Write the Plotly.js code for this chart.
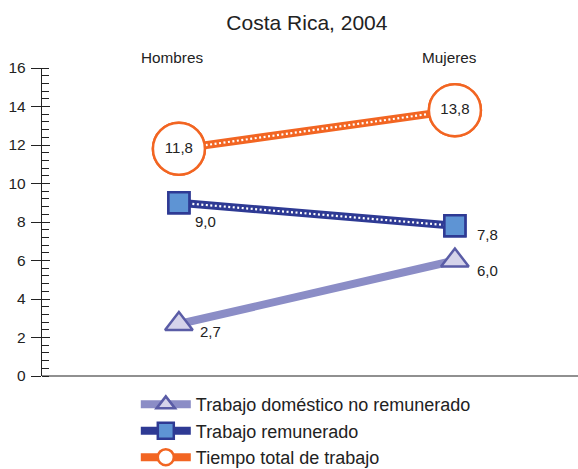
<!DOCTYPE html>
<html><head><meta charset="utf-8">
<script src="https://cdn.plot.ly/plotly-3.0.1.min.js"></script>
<style>html,body{margin:0;padding:0;background:#fff}#c{width:578px;height:469px}</style>
</head><body><div id="c"></div>
<script>
const categories = ["Hombres", "Mujeres"];
const seriesNames = ["Trabajo doméstico no remunerado", "Trabajo remunerado", "Tiempo total de trabajo"];
const domestico = [2.7, 6.0];
const remunerado = [9.0, 7.8];
const total = [11.8, 13.8];
const yTicks = [0, 2, 4, 6, 8, 10, 12, 14, 16];

const fmt = v => v.toFixed(1).replace('.', ',');
const font = "Liberation Sans, Arial, sans-serif";
const x = [0, 1];
const dots = {color: '#ffffff', width: 2.2, dash: '2px,2.5px'};

const traces = [
  {x, y: domestico, name: seriesNames[0], mode: 'lines+markers', type: 'scatter',
   line: {color: '#8b8dc6', width: 8},
   marker: {symbol: 'triangle-up', size: 24, color: '#d5d3ea', line: {color: '#5a5ca6', width: 2.5}}},
  {x, y: remunerado, name: seriesNames[1], mode: 'lines+markers', type: 'scatter',
   line: {color: '#2e3a94', width: 8},
   marker: {symbol: 'square', size: 21, color: '#5e94d4', line: {color: '#2e3a94', width: 2.5}}},
  {x, y: remunerado, mode: 'lines', type: 'scatter', showlegend: false, line: dots},
  {x, y: remunerado, mode: 'markers', type: 'scatter', showlegend: false,
   marker: {symbol: 'square', size: 21, color: '#5e94d4', line: {color: '#2e3a94', width: 2.5}}},
  {x, y: total, name: seriesNames[2], mode: 'lines+markers', type: 'scatter',
   line: {color: '#f26522', width: 8},
   marker: {symbol: 'circle', size: 52, color: '#ffffff', line: {color: '#f26522', width: 2.5}}},
  {x, y: total, mode: 'lines', type: 'scatter', showlegend: false, line: dots},
  {x, y: total, mode: 'markers+text', type: 'scatter', showlegend: false,
   text: total.map(fmt), textposition: 'middle center',
   textfont: {family: font, size: 15, color: '#222'},
   marker: {symbol: 'circle', size: 52, color: '#ffffff', line: {color: '#f26522', width: 2.5}}}
];

const offsets = {
  dom: [[32, -7], [33, -10]],
  rem: [[27, -19], [33, -9]],
  cat: [-7, -5]
};
const annotations = [];
domestico.forEach((v, i) => annotations.push({x: x[i], y: v, text: fmt(v), showarrow: false,
  xshift: offsets.dom[i][0], yshift: offsets.dom[i][1], font: {family: font, size: 15, color: '#222'}}));
remunerado.forEach((v, i) => annotations.push({x: x[i], y: v, text: fmt(v), showarrow: false,
  xshift: offsets.rem[i][0], yshift: offsets.rem[i][1], font: {family: font, size: 15, color: '#222'}}));
categories.forEach((c, i) => annotations.push({x: x[i], y: 1, yref: 'paper', yanchor: 'bottom', yshift: 0,
  xshift: offsets.cat[i], text: c, showarrow: false, font: {family: font, size: 15.3, color: '#222'}}));

const layout = {
  width: 578, height: 469,
  margin: {l: 42, r: 0, t: 68, b: 93, autoexpand: false},
  paper_bgcolor: '#fff', plot_bgcolor: '#fff',
  title: {text: 'Costa Rica, 2004', font: {family: font, size: 21, color: '#222'}, x: 0.531, xanchor: 'center', y: 0.951, yanchor: 'middle'},
  font: {family: font, color: '#222'},
  xaxis: {range: [-0.496, 1.446], showticklabels: false, ticks: '',
    showgrid: false, zeroline: false, showline: false},
  yaxis: {range: [0, 16], tickvals: yTicks, ticks: 'outside', ticklen: 10, tickwidth: 1, tickcolor: '#222',
    showline: true, linecolor: '#222', linewidth: 1.2, showgrid: false, zeroline: false,
    ticklabelstandoff: 2, tickfont: {family: font, size: 15.5, color: '#222'},
    minor: {dtick: 0.4, ticks: 'inside', ticklen: 7, tickwidth: 1, tickcolor: '#222'}},
  yaxis2: {range: [0, 16], overlaying: 'y', side: 'left', tickvals: yTicks, ticks: 'inside', ticklen: 8,
    tickcolor: '#222', showticklabels: false, showgrid: false, zeroline: false, showline: false},
  shapes: [{type: 'line', xref: 'paper', yref: 'paper', x0: 0, x1: 1, y0: 0, y1: 0, line: {color: '#222', width: 1.2}}],
  annotations,
  showlegend: true,
  legend: {x: 0.175, xanchor: 'left', y: -0.033, yanchor: 'top', orientation: 'v', traceorder: 'normal',
    font: {family: font, size: 18, color: '#222'}, itemwidth: 50, tracegroupgap: 0, bgcolor: 'rgba(0,0,0,0)'}
};
traces.push({x: [0], y: [0], yaxis: 'y2', mode: 'markers', marker: {opacity: 0}, showlegend: false, hoverinfo: 'skip'});

Plotly.newPlot('c', traces, layout, {displayModeBar: false, staticPlot: true});
</script></body></html>
